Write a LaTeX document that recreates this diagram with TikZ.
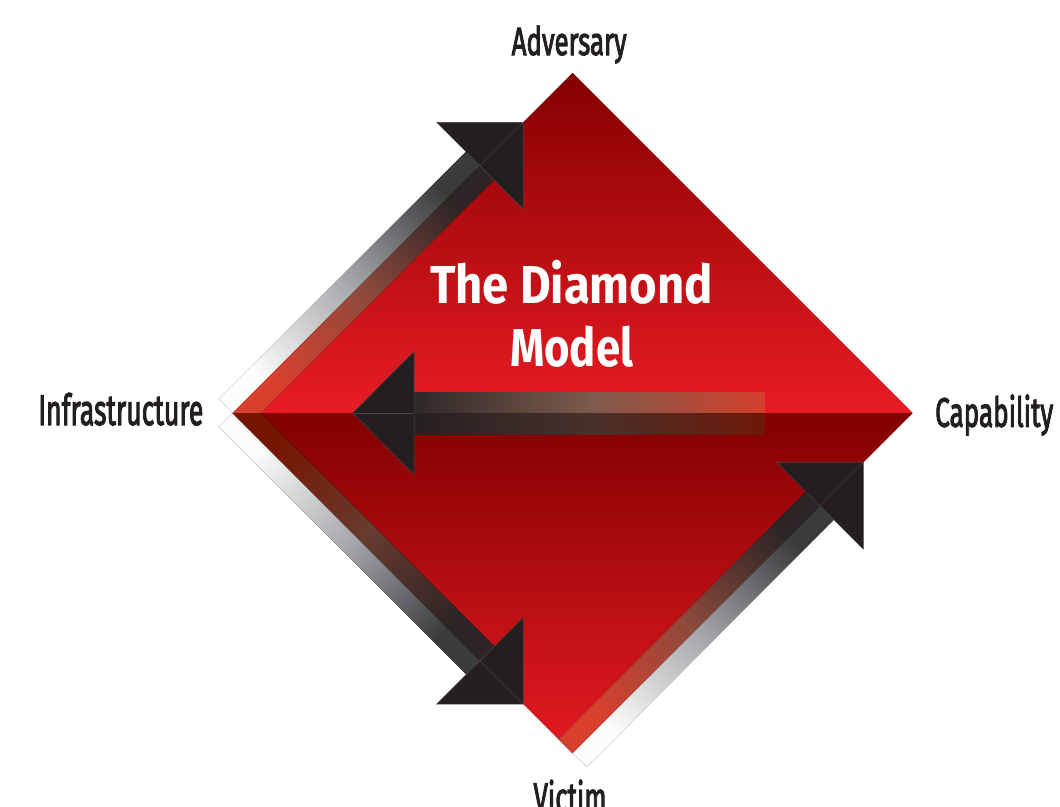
\documentclass[tikz,border=0pt]{standalone}
\usepackage{fontspec}
\setmainfont{Fira Sans}
\newfontfamily\labfont{Fira Sans}[FakeBold=3]
\usepackage{graphicx}
\definecolor{headcol}{HTML}{231F20}
\definecolor{headedge}{HTML}{4A4445}
\definecolor{labcol}{HTML}{231F20}
\definecolor{upTop}{HTML}{850000}
\definecolor{upBot}{HTML}{E91C24}
\definecolor{loTop}{HTML}{820000}
\definecolor{loBot}{HTML}{E51B23}
\definecolor{outT}{HTML}{FCFCFC}
\definecolor{outM}{HTML}{A5A7AA}
\definecolor{outH}{HTML}{3A3B3D}
\definecolor{inBrT}{HTML}{D8402E}
\definecolor{inBrM}{HTML}{8C4A3C}
\definecolor{inH}{HTML}{2C2425}
\definecolor{inDkT}{HTML}{761600}
\definecolor{inDkM}{HTML}{683B2F}
\definecolor{hzUpH}{HTML}{2E2828}
\definecolor{hzUpM}{HTML}{7C5A4C}
\definecolor{hzUpT}{HTML}{D4402C}
\definecolor{hzLoH}{HTML}{252020}
\definecolor{hzLoM}{HTML}{48302A}
\definecolor{hzLoT}{HTML}{6E1808}
\newcommand\fitlab[3]{\resizebox{#1}{#2}{\raisebox{0pt}[\fontcharht\font`H][0pt]{#3}}}
\begin{document}
\begin{tikzpicture}[x=1pt,y=-1pt,
  lab/.style={font=\labfont\fontsize{40}{48}\selectfont, text=labcol, inner sep=0pt, anchor=base},
  ttl/.style={font=\fontsize{52}{60}\selectfont\bfseries, text=white, inner sep=0pt, anchor=base},
  band/.style n args={4}{top color=#1, bottom color=#3, middle color=#2, shading angle=#4},
  hband/.style n args={3}{left color=#1, right color=#3, middle color=#2},
  arrowhead/.style={fill=headcol, draw=headedge, line width=0.5pt, line join=miter},
  axisline/.style={draw=headedge, line width=0.5pt}]
\useasboundingbox (0,0) rectangle (1060,806);
\fill[white] (0,0) rectangle (1060,806);
% diamond vertices
\coordinate (VT) at (572.5,73);
\coordinate (VL) at (232.5,413);
\coordinate (VR) at (912.5,413);
\coordinate (VB) at (572.5,753);
% diamond halves
\fill[top color=upTop, bottom color=upBot] (VL) -- (VT) -- (VR) -- cycle;
\fill[top color=loTop, bottom color=loBot] (VL) -- (VR) -- (VB) -- cycle;
% arrow tips and head base centres
\coordinate (T1) at (523.3,122.3); \coordinate (B1) at (479.95,165.65);
\coordinate (T2) at (523.3,704);   \coordinate (B2) at (479.95,660.65);
\coordinate (T3) at (863.3,462.3); \coordinate (B3) at (819.95,505.65);
\coordinate (T4) at (352.7,413);   \coordinate (B4) at (414,413);
% upper-left band (Infrastructure -> Adversary)
\fill[band={outH}{outM}{outT}{-45}] (VL) -- (218.75,398.75) -- (465.9,151.6) -- (B1) -- cycle;
\fill[band={inH}{inBrM}{inBrT}{-45}] (VL) -- (260.5,413) -- (493.9,179.6) -- (B1) -- cycle;
% lower-left band (Infrastructure -> Victim)
\fill[band={outH}{outM}{outT}{-135}] (VL) -- (218.75,426.75) -- (466.3,674.3) -- (B2) -- cycle;
\fill[band={inH}{inDkM}{inDkT}{-135}] (VL) -- (261,413) -- (494.3,646.3) -- (B2) -- cycle;
% lower-right band (Victim -> Capability)
\fill[band={outH}{outM}{outT}{-45}] (VB) -- (586.75,766.75) -- (833.9,519.6) -- (B3) -- cycle;
\fill[band={inH}{inBrM}{inBrT}{-45}] (VB) -- (558.75,738.75) -- (805.9,491.6) -- (B3) -- cycle;
% horizontal band (Capability -> Infrastructure)
\fill[hband={hzUpH}{hzUpM}{hzUpT}] (414,392) rectangle (765,413);
\fill[hband={hzLoH}{hzLoM}{hzLoT}] (414,413) rectangle (765,434);
% arrow heads
\path[arrowhead] (T1) -- (436.7,122.3) -- (523.3,209) -- cycle;
\path[arrowhead] (T2) -- (436.7,704) -- (523.3,617.3) -- cycle;
\path[arrowhead] (T3) -- (776.7,462.3) -- (863.3,549) -- cycle;
\path[arrowhead] (T4) -- (414,351.5) -- (414,474.5) -- cycle;
\draw[axisline] (B1) -- (T1);
\draw[axisline] (B2) -- (T2);
\draw[axisline] (B3) -- (T3);
\draw[axisline] (B4) -- (T4);
% title
\node[ttl] (title1) at (571.5,303.3) {\fitlab{283pt}{37pt}{The Diamond}};
\node[ttl] (title2) at (571.7,366.7) {\fitlab{123pt}{37pt}{Model}};
% vertex labels
\node[lab] (adv) at (569.2,55) {\fitlab{115pt}{27pt}{Adversary}};
\node[lab] (inf) at (120.8,425) {\fitlab{165pt}{29.5pt}{Infrastructure}};
\node[lab] (cap) at (994.2,426.7) {\fitlab{118pt}{28.3pt}{Capability}};
\node[lab] (vic) at (570,811.5) {\fitlab{73pt}{28pt}{Victim}};
\end{tikzpicture}
\end{document}
